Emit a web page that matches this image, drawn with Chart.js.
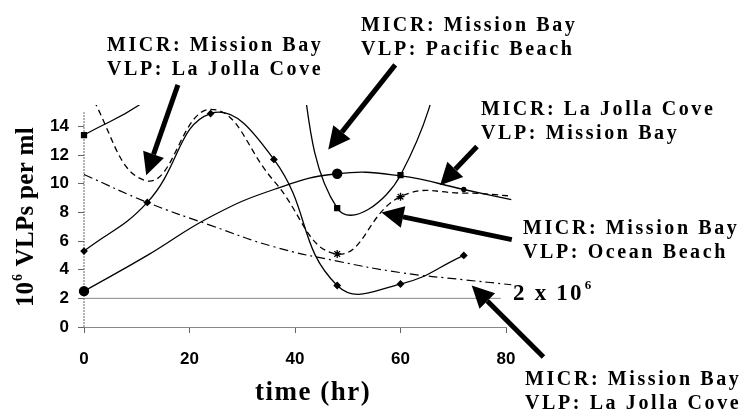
<!DOCTYPE html>
<html>
<head>
<meta charset="utf-8">
<script src="https://cdn.jsdelivr.net/npm/chart.js@4/dist/chart.umd.min.js"></script>
<style>
  html, body { margin: 0; padding: 0; background: #fff; }
</style>
</head>
<body>
<canvas id="chart" width="746" height="409"></canvas>
<script>
// Sampling times (hr)
const times = [0, 12, 24, 36, 48, 60, 72];
const timesLong = [0, 12, 24, 36, 48, 60, 72, 81];

// 10^6 VLPs per ml (values above 15.5 run off the top)
const squareSeries = [13.4, 15.9, 20, 24, 8.3, 10.6, 25];
const circleSeries = [2.5, 5.0, 7.7, 9.6, 10.7, 10.55, 9.6, 8.9];
const diamondSeries = [5.3, 8.7, 14.9, 11.7, 2.9, 3.0, 5.0];
const starSeries = [17.0, 10.2, 15.2, 10.2, 5.1, 9.1, 9.35, 9.15];
const dashDotSeries = [10.65, 8.7, 7.1, 5.6, 4.6, 3.8, 3.3, 2.95];

// reference line at 2 x 10^6
const refLevel = 2;
const refSpan = [0, 79];

// axis ticks
const xTicks = [0, 20, 40, 60, 80];
const yTicks = [0, 2, 4, 6, 8, 10, 12, 14];

// text notes (pixel layout) and arrows (data coords)
const notes = [
  { lines: ['MICR: Mission Bay', 'VLP: La Jolla Cove'], x: 107, y: 51 },
  { lines: ['MICR: Mission Bay', 'VLP: Pacific Beach'], x: 361, y: 31 },
  { lines: ['MICR: La Jolla Cove', 'VLP: Mission Bay'], x: 481, y: 115 },
  { lines: ['MICR: Mission Bay', 'VLP: Ocean Beach'], x: 523, y: 234 },
  { lines: ['MICR: Mission Bay', 'VLP: La Jolla Cove'], x: 525, y: 385 }
];
const arrows = [
  { from: [17.8, 16.9], to: [11.8, 10.6] },
  { from: [59, 18.3], to: [46.3, 12.4] },
  { from: [74.5, 12.6], to: [67.5, 9.9] },
  { from: [81.1, 6.1], to: [56.4, 8.0] },
  { from: [87.1, -2.1], to: [73.5, 2.9] }
];

const toXY = (xs, ys) => ys.map((y, i) => ({ x: xs[i], y: y }));
const serif = '"Liberation Serif", "Times New Roman", serif';

function spaced(ctx, text, x, y, sp) {
  for (const ch of text) {
    ctx.fillText(ch, x, y);
    x += ctx.measureText(ch).width + sp;
  }
  return x;
}

const clipBox = { left: 8, top: 0, right: 8, bottom: 8 };
const base = {
  borderColor: '#000', backgroundColor: '#000', borderWidth: 1.3,
  tension: 0.45, fill: false, clip: clipBox
};

const overlay = {
  id: 'overlay',
  beforeDatasetsDraw(chart) {
    const ctx = chart.ctx, x = chart.scales.x, y = chart.scales.y;
    ctx.save();
    ctx.strokeStyle = '#666';
    ctx.lineWidth = 1;
    ctx.setLineDash([2, 1]);
    ctx.beginPath();
    ctx.moveTo(x.getPixelForValue(0), y.getPixelForValue(0));
    ctx.lineTo(x.getPixelForValue(0), y.getPixelForValue(15));
    ctx.stroke();
    ctx.restore();
  },
  afterDatasetsDraw(chart) {
    const ctx = chart.ctx, sx = chart.scales.x, sy = chart.scales.y;
    ctx.save();
    ctx.fillStyle = '#000';
    ctx.strokeStyle = '#000';

    // arrows
    arrows.forEach(a => {
      const x0 = sx.getPixelForValue(a.from[0]), y0 = sy.getPixelForValue(a.from[1]);
      const x1 = sx.getPixelForValue(a.to[0]), y1 = sy.getPixelForValue(a.to[1]);
      const ang = Math.atan2(y1 - y0, x1 - x0);
      const headLen = 22, headW = 11;
      const bx = x1 - headLen * Math.cos(ang), by = y1 - headLen * Math.sin(ang);
      ctx.lineWidth = 5;
      ctx.beginPath();
      ctx.moveTo(x0, y0);
      ctx.lineTo(bx, by);
      ctx.stroke();
      ctx.beginPath();
      ctx.moveTo(x1, y1);
      ctx.lineTo(bx + headW * Math.sin(ang), by - headW * Math.cos(ang));
      ctx.lineTo(bx - headW * Math.sin(ang), by + headW * Math.cos(ang));
      ctx.closePath();
      ctx.fill();
    });

    // notes
    ctx.font = 'bold 20px ' + serif;
    ctx.textAlign = 'left';
    ctx.textBaseline = 'alphabetic';
    notes.forEach(n => {
      n.lines.forEach((t, i) => spaced(ctx, t, n.x, n.y + i * 23.5, 2.6));
    });

    // 2 x 10^6
    ctx.font = 'bold 23px ' + serif;
    let px = spaced(ctx, '2 x 10', 513, 300, 2.2);
    ctx.font = 'bold 13px ' + serif;
    ctx.fillText('6', px + 1, 289);

    // axis titles
    ctx.font = 'bold 27px ' + serif;
    spaced(ctx, 'time (hr)', 255, 400, 1.5);

    ctx.translate(33, 307);
    ctx.rotate(-Math.PI / 2);
    ctx.font = 'bold 25px ' + serif;
    px = spaced(ctx, '10', 0, 0, 0);
    ctx.font = 'bold 14px ' + serif;
    ctx.fillText('6', px + 1, -11);
    px += ctx.measureText('6').width + 2;
    ctx.font = 'bold 25px ' + serif;
    spaced(ctx, ' VLPs per ml', px, 0, 0.3);
    ctx.restore();
  }
};

new Chart(document.getElementById('chart'), {
  type: 'line',
  data: {
    datasets: [
      Object.assign({}, base, {
        data: [{ x: refSpan[0], y: refLevel }, { x: refSpan[1], y: refLevel }],
        borderColor: '#888', borderWidth: 1, tension: 0, pointRadius: 0
      }),
      Object.assign({}, base, {
        data: toXY(times, squareSeries),
        pointStyle: 'rect', pointRadius: 3.5
      }),
      Object.assign({}, base, {
        data: toXY(timesLong, circleSeries),
        pointStyle: 'circle',
        pointRadius: ctx => (ctx.dataIndex === 0 || ctx.dataIndex === 4) ? 4.5 : (ctx.dataIndex === 6 ? 2 : 0)
      }),
      Object.assign({}, base, {
        data: toXY(times, diamondSeries),
        pointStyle: 'rectRot', pointRadius: 3
      }),
      Object.assign({}, base, {
        data: toXY(timesLong, starSeries),
        borderDash: [6, 4], pointStyle: 'star',
        pointRadius: ctx => (ctx.dataIndex === 4 || ctx.dataIndex === 5) ? 4 : 0
      }),
      Object.assign({}, base, {
        data: toXY(timesLong, dashDotSeries),
        borderDash: [9, 4, 2, 4], borderWidth: 1.2, pointRadius: 0
      })
    ]
  },
  options: {
    responsive: false,
    animation: false,
    devicePixelRatio: 1,
    layout: { padding: { left: 0, top: 105, right: 240, bottom: 0 } },
    elements: { line: { capBezierPoints: false }, point: { borderWidth: 1 } },
    plugins: { legend: { display: false }, tooltip: { enabled: false } },
    scales: {
      x: {
        type: 'linear', min: 0, max: 80,
        afterBuildTicks: s => { s.ticks = xTicks.map(v => ({ value: v })); },
        afterFit: s => { s.height = 82; },
        grid: { drawOnChartArea: false, tickLength: 6, color: '#666' },
        border: { color: '#888', width: 1 },
        ticks: { color: '#000', padding: 16, font: { family: '"Liberation Sans", Arial, sans-serif', size: 17, weight: 'bold' } }
      },
      y: {
        type: 'linear', min: 0, max: 15.5,
        afterBuildTicks: s => { s.ticks = yTicks.map(v => ({ value: v })); },
        afterFit: s => { s.width = 84; },
        grid: { drawOnChartArea: false, tickLength: 6, color: '#666' },
        border: { display: false },
        ticks: { color: '#000', padding: 9, font: { family: '"Liberation Sans", Arial, sans-serif', size: 17, weight: 'bold' } }
      }
    }
  },
  plugins: [overlay]
});
</script>
</body>
</html>
